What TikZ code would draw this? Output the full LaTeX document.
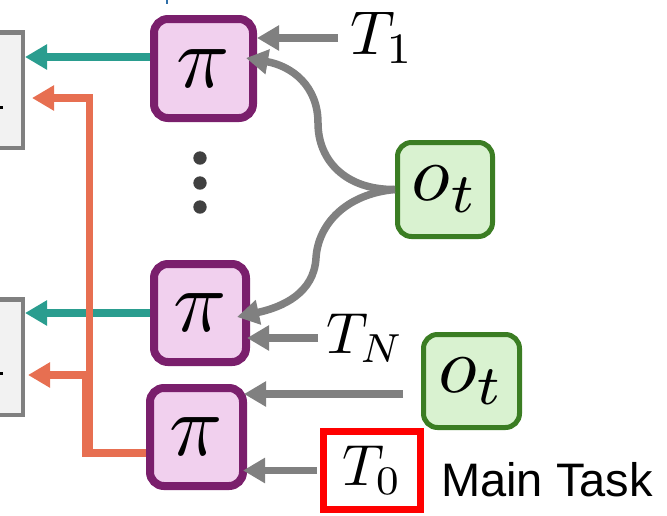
\documentclass[tikz,border=0pt]{standalone}
\usepackage{graphicx}
\usepackage{fontspec}
\newfontfamily\arialfont{Liberation Sans}
\usetikzlibrary{arrows.meta,calc}
\definecolor{pifill}{HTML}{F1D0EE}
\definecolor{piedge}{HTML}{7A1F6C}
\definecolor{obsfill}{HTML}{D9F2D0}
\definecolor{obsedge}{HTML}{3B7D23}
\definecolor{arrgray}{HTML}{808080}
\definecolor{tealc}{HTML}{2A9D8F}
\definecolor{orangec}{HTML}{E76F51}
\definecolor{boxfill}{HTML}{F2F2F2}
\definecolor{dotc}{HTML}{404040}
\definecolor{tickblue}{HTML}{2F6FA8}
\definecolor{redc}{HTML}{FF0000}
\newcommand{\hugemath}[2]{\scalebox{#1}{$#2$}}
\tikzset{
  pibox/.style={draw=piedge, fill=pifill, line width=8pt, rounded corners=14pt,
    inner sep=0pt},
  obsbox/.style={draw=obsedge, fill=obsfill, line width=5pt, rounded corners=14pt,
    inner sep=0pt},
  grbox/.style={draw=arrgray, fill=boxfill, line width=4.5pt, inner sep=0pt,
    minimum width=55.5pt, minimum height=115.5pt},
  mainbox/.style={draw=redc, fill=white, line width=7pt, inner sep=0pt,
    minimum width=97pt, minimum height=78pt},
  tlabel/.style={inner sep=0pt},
  tip/.style={-{Triangle[length=22pt,width=24pt]}},
  garrow/.style={draw=arrgray, line width=7.5pt, tip},
  tarrow/.style={draw=tealc, line width=7.5pt, tip},
  oarrow/.style={draw=orangec, line width=7.5pt, tip},
}
\begin{document}
\begin{tikzpicture}[x=1pt,y=-1pt]
\useasboundingbox (0,0) rectangle (667,515);

% clipped boxes on the left
\node[grbox] (g1) at (-5,90) {};
\node[grbox] (g2) at (-5,357) {};
\fill[black] (0,105.5) rectangle (3,108.5);
\fill[black] (0,372) rectangle (3,375);
\draw[tickblue, line width=2.5pt] (167,0) -- (167,4);

% policy boxes
\node[pibox, minimum width=99pt, minimum height=99pt] (pi1) at (203.5,68.5) {\hugemath{8.8}{\pi}};
\node[pibox, minimum width=92pt, minimum height=98pt] (pi2) at (200,313) {\hugemath{8.8}{\pi}};
\node[pibox, minimum width=93pt, minimum height=98pt] (pi3) at (196.5,437) {\hugemath{8.8}{\pi}};

% vertical dots
\foreach \yy in {158,183,207} \fill[dotc] (200,\yy) circle (6.7pt);

% observations
\node[obsbox, minimum width=95pt, minimum height=94pt] (ot1) at (445,189.5) {\hugemath{8}{o_t}};
\node[obsbox, minimum width=96pt, minimum height=93pt] (ot2) at (471.5,381) {\hugemath{8}{o_t}};

% task labels
\node[tlabel, anchor=west] (T1) at (350,38) {\hugemath{6.2}{T_1}};
\node[tlabel, anchor=west] (TN) at (326,338) {\hugemath{5.8}{T_N}};
\node[mainbox] (T0) at (372,470.5) {\hugemath{5.8}{T_0}};
\node[anchor=base west, inner sep=0pt, font=\arialfont\fontsize{47}{47}\selectfont] (mt) at (441,496) {Main Task};

% gray arrows into the policies
\path ($(T1.west)+(-12,0)$) coordinate (s1);
\draw[garrow] (s1) -- (s1 -| pi1.east);
\path ($(TN.west)+(-8,0)$) coordinate (sN);
\draw[garrow, shorten >=-3pt] (sN) -- (sN -| pi2.east);
\path ($(ot2.west)+(-18,13)$) coordinate (s2);
\draw[garrow, shorten >=-3pt] (s2) -- (s2 -| pi3.east);
\draw[garrow, shorten <=3pt, shorten >=-4pt] (T0.west) -- (T0.west -| pi3.east);

% curved arrows from the shared observation
\draw[garrow] (ot1.west) .. controls (345,190) and (318,160) .. (318,123)
   .. controls (318,86) and (292,66) .. ($(pi1.east)+(-11,-10.5)$);
\draw[garrow] (ot1.west) .. controls (345,194) and (318,225) .. (316,258)
   .. controls (314,293) and (283,307) .. ($(pi2.east)+(-13,4)$);

% teal outputs
\path ($(pi1.west)+(0,-11.5)$) coordinate (c1);
\draw[tarrow] (c1) -- (c1 -| g1.east);
\draw[tarrow] (pi2.west) -- (pi2.west -| g2.east);

% orange outputs of the main policy
\path ($(pi3.west)+(0,16)$) coordinate (o0);
\draw[oarrow] (o0) -- ++(-60,0) |- ($(g2.east)+(3,18)$);
\draw[oarrow] (o0) -- ++(-56.5,0) |- ($(g1.east)+(7,8)$);
\end{tikzpicture}
\end{document}
